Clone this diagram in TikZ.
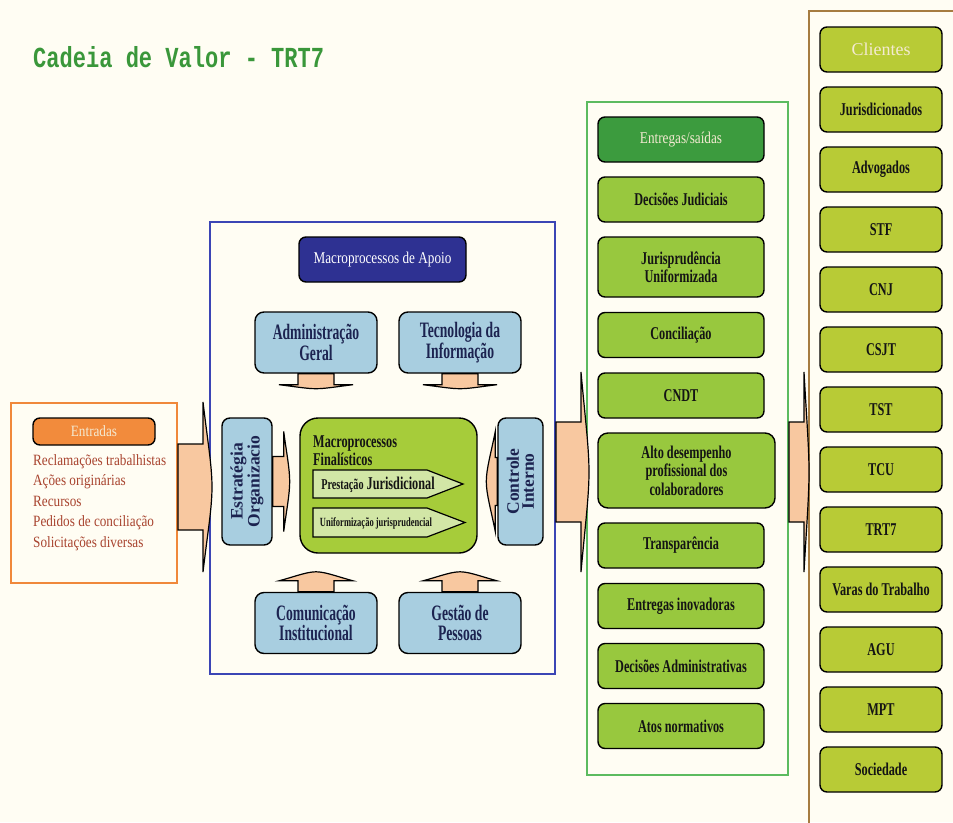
\documentclass[tikz,border=0pt]{standalone}
\usepackage{fontspec}
\setmainfont{Liberation Serif}
\newfontfamily\titlefont[FakeStretch=0.76]{Liberation Mono}
\newfontfamily\fitem[FakeStretch=0.68]{Liberation Serif}
\newfontfamily\fblue[FakeStretch=0.62]{Liberation Serif}
\newfontfamily\fhead[FakeStretch=0.8]{Liberation Serif}
\newfontfamily\flist[FakeStretch=0.84]{Liberation Serif}
\usetikzlibrary{calc}

\definecolor{bgc}{HTML}{FFFDF3}
\definecolor{titlegreen}{HTML}{3A973A}
\definecolor{orangec}{HTML}{F0883A}
\definecolor{orangef}{HTML}{F28B3C}
\definecolor{peach}{HTML}{F8C8A0}
\definecolor{listred}{HTML}{A8432E}
\definecolor{bluec}{HTML}{3B45B5}
\definecolor{navyf}{HTML}{2E3192}
\definecolor{lightblue}{HTML}{A8CEE0}
\definecolor{navytext}{HTML}{1C2350}
\definecolor{finalgreen}{HTML}{A6CC3A}
\definecolor{pentfill}{HTML}{D2E6A6}
\definecolor{greenframe}{HTML}{5CBB5F}
\definecolor{darkgreen}{HTML}{3C9B3E}
\definecolor{itemgreen}{HTML}{98C83E}
\definecolor{cligreen}{HTML}{B8CB36}
\definecolor{tanframe}{HTML}{A67C40}
\definecolor{cream}{HTML}{F4EAD2}
\definecolor{itemtext}{HTML}{141414}

\newcommand\blockarrow[6]{%
  \begin{scope}[shift={(#1)}, rotate=#2]
    \draw[barrow] (0,-#4) -- ({#3-#6},-#4) -- ({#3-#6},-#5)
      .. controls ({#3-0.5*#6},{-0.55*#5}) and (#3,{-0.25*#5}) .. (#3,0)
      .. controls (#3,{0.25*#5}) and ({#3-0.5*#6},{0.55*#5}) .. ({#3-#6},#5)
      -- ({#3-#6},#4) -- (0,#4) -- cycle;
  \end{scope}}

\tikzset{
  frame/.style={line width=2pt, inner sep=0pt},
  box/.style={draw=black, line width=1.4pt, rounded corners=7pt, align=center, inner sep=2pt},
  barrow/.style={draw=black, line width=1.2pt, fill=peach, line join=miter},
  penta/.style={draw=black, line width=1.2pt, fill=pentfill},
  entitem/.style={box, fill=itemgreen, minimum width=166pt, minimum height=45pt,
    font=\fitem\bfseries\fontsize{18}{18.5}\selectfont, text=itemtext},
  cliitem/.style={box, fill=cligreen, minimum width=122pt, minimum height=45pt,
    font=\fitem\bfseries\fontsize{18}{18.5}\selectfont, text=itemtext},
  bluebox/.style={box, fill=lightblue, minimum width=122pt, minimum height=61pt, rounded corners=9pt,
    font=\fblue\bfseries\fontsize{22}{20.5}\selectfont, text=navytext},
  listtxt/.style={anchor=base west, inner sep=0pt, text=listred, font=\flist\fontsize{15.7}{17}\selectfont},
  vtext/.style={rotate=90, align=center, inner sep=0pt, text=navytext, font=\bfseries\fontsize{17.5}{15}\selectfont},
}

\begin{document}
\begin{tikzpicture}[x=1pt,y=-1pt]
\fill[bgc] (0,0) rectangle (953,822);
\useasboundingbox (0,0) rectangle (953,822);
\clip (0,0) rectangle (953,822);

% title
\node[anchor=base west, inner sep=0pt, text=titlegreen, font=\titlefont\bfseries\fontsize{29}{30}\selectfont] (title) at (33,67) {Cadeia de Valor - TRT7};

% ---- Entradas
\node[frame, draw=orangec, minimum width=166pt, minimum height=180pt] (entr) at (94,493) {};
\node[box, fill=orangef, minimum width=122pt, minimum height=27pt, text=cream,
  font=\flist\fontsize{15.7}{17}\selectfont] (entrh) at (94,431.5) {Entradas};
\node[listtxt] (e1) at (33,465) {Reclamações trabalhistas};
\node[listtxt] (e2) at (33,485.5) {Ações originárias};
\node[listtxt] (e3) at (33,506) {Recursos};
\node[listtxt] (e4) at (33,526.5) {Pedidos de conciliação};
\node[listtxt] (e5) at (33,547) {Solicitações diversas};

% ---- Apoio
\node[frame, draw=bluec, minimum width=345pt, minimum height=452pt] (apoio) at (382.5,448) {};
\node[box, fill=navyf, text=white, minimum width=167pt, minimum height=45pt,
  font=\fhead\fontsize{16.5}{18}\selectfont] (apoioh) at (382.5,259.5) {Macroprocessos de Apoio};
\node[bluebox] (adm) at (316,342.5) {Administração\\Geral};
\node[bluebox] (tec) at (460,342.5) {Tecnologia da\\Informação};
\node[bluebox] (com) at (316,623) {Comunicação\\Institucional};
\node[bluebox] (ges) at (460,623) {Gestão de\\Pessoas};

\node[box, fill=lightblue, minimum width=50pt, minimum height=127pt, rounded corners=8pt] (estr) at (247,481.5) {};
\node[vtext] (estrt) at (estr.center) {Estratégia\\Organizacio};
\node[box, fill=lightblue, minimum width=45pt, minimum height=127pt, rounded corners=8pt] (ctrl) at (520.5,481.5) {};
\node[vtext] (ctrlt) at (ctrl.center) {Controle\\Interno};

\node[box, fill=finalgreen, minimum width=177pt, minimum height=135pt, rounded corners=18pt] (fin) at (388.5,485.5) {};
\node[anchor=base west, inner sep=0pt, text=itemtext, font=\fitem\bfseries\fontsize{18}{18}\selectfont] (fint1) at (313,447) {Macroprocessos};
\node[anchor=base west, inner sep=0pt, text=itemtext, font=\fitem\bfseries\fontsize{18}{18}\selectfont] (fint2) at (313,465) {Finalísticos};
\draw[penta] (313,470) -- (427,470) -- (463,484) -- (427,498) -- (313,498) -- cycle;
\node[inner sep=0pt, text=itemtext, font=\fitem\bfseries\fontsize{18}{18}\selectfont] (pj) at (378,485)
  {{\fontsize{15}{15}\selectfont Prestação} Jurisdicional};
\draw[penta] (313,508) -- (427,508) -- (465,522.5) -- (427,537) -- (313,537) -- cycle;
\node[inner sep=0pt, text=itemtext, font=\fitem\bfseries\fontsize{12.5}{12}\selectfont] (uj) at (376,523)
  {Uniformização jurisprudencial};

% ---- Entregas
\node[frame, draw=greenframe, minimum width=201pt, minimum height=673pt] (entg) at (687.5,438.5) {};
\node[box, fill=darkgreen, text=cream, minimum width=166pt, minimum height=45pt,
  font=\fhead\fontsize{16.5}{18}\selectfont] (entgh) at (681,139.5) {Entregas/saídas};
\node[entitem] (s1) at (681,199.5) {Decisões Judiciais};
\node[entitem, minimum height=60pt] (s2) at (681,267) {Jurisprudência\\Uniformizada};
\node[entitem] (s3) at (681,335) {Conciliação};
\node[entitem] (s4) at (681,395.5) {CNDT};
\node[entitem, minimum width=177pt, minimum height=75pt, rounded corners=10pt] (s5) at (686.5,470.5) {Alto desempenho\\profissional dos\\colaboradores};
\node[entitem] (s6) at (681,545.5) {Transparência};
\node[entitem] (s7) at (681,606) {Entregas inovadoras};
\node[entitem] (s8) at (681,666) {Decisões Administrativas};
\node[entitem] (s9) at (681,726) {Atos normativos};

% ---- Clientes
\node[frame, draw=tanframe, minimum width=180pt, minimum height=860pt, anchor=north west] (cli) at (808,10) {};
\node[cliitem, text=cream, font=\fontsize{18}{20}\selectfont] (c0) at (881,49.5) {Clientes};
\node[cliitem] (c1) at (881,109.5) {Jurisdicionados};
\node[cliitem] (c2) at (881,169.5) {Advogados};
\node[cliitem] (c3) at (881,229.5) {STF};
\node[cliitem] (c4) at (881,289.5) {CNJ};
\node[cliitem] (c5) at (881,349.5) {CSJT};
\node[cliitem] (c6) at (881,409.5) {TST};
\node[cliitem] (c7) at (881,469.5) {TCU};
\node[cliitem] (c8) at (881,529.5) {TRT7};
\node[cliitem] (c9) at (881,589.5) {Varas do Trabalho};
\node[cliitem] (c10) at (881,649.5) {AGU};
\node[cliitem] (c11) at (881,709.5) {MPT};
\node[cliitem] (c12) at (881,769.5) {Sociedade};

% ---- block arrows (connectors)
\coordinate (a1) at ([yshift=6pt]entr.east);
\blockarrow{a1}{0}{34}{43}{85}{9}
\coordinate (a2) at ([yshift=-24pt]apoio.east);
\blockarrow{a2}{0}{33}{50}{100}{8}
\coordinate (a3) at ([yshift=-33.5pt]entg.east);
\blockarrow{a3}{0}{20}{50}{100}{5}
\coordinate (a4) at (estr.east);
\blockarrow{a4}{0}{17}{25}{50}{6}
\coordinate (a5) at (ctrl.west);
\blockarrow{a5}{180}{11}{24}{50}{9}
\coordinate (a6) at (adm.south);
\blockarrow{a6}{-90}{15}{18}{37}{4}
\coordinate (a7) at (tec.south);
\blockarrow{a7}{-90}{15}{18}{37}{4}
\coordinate (a8) at (com.north);
\blockarrow{a8}{90}{20}{18}{37}{9}
\coordinate (a9) at (ges.north);
\blockarrow{a9}{90}{20}{18}{37}{9}
\end{tikzpicture}
\end{document}
